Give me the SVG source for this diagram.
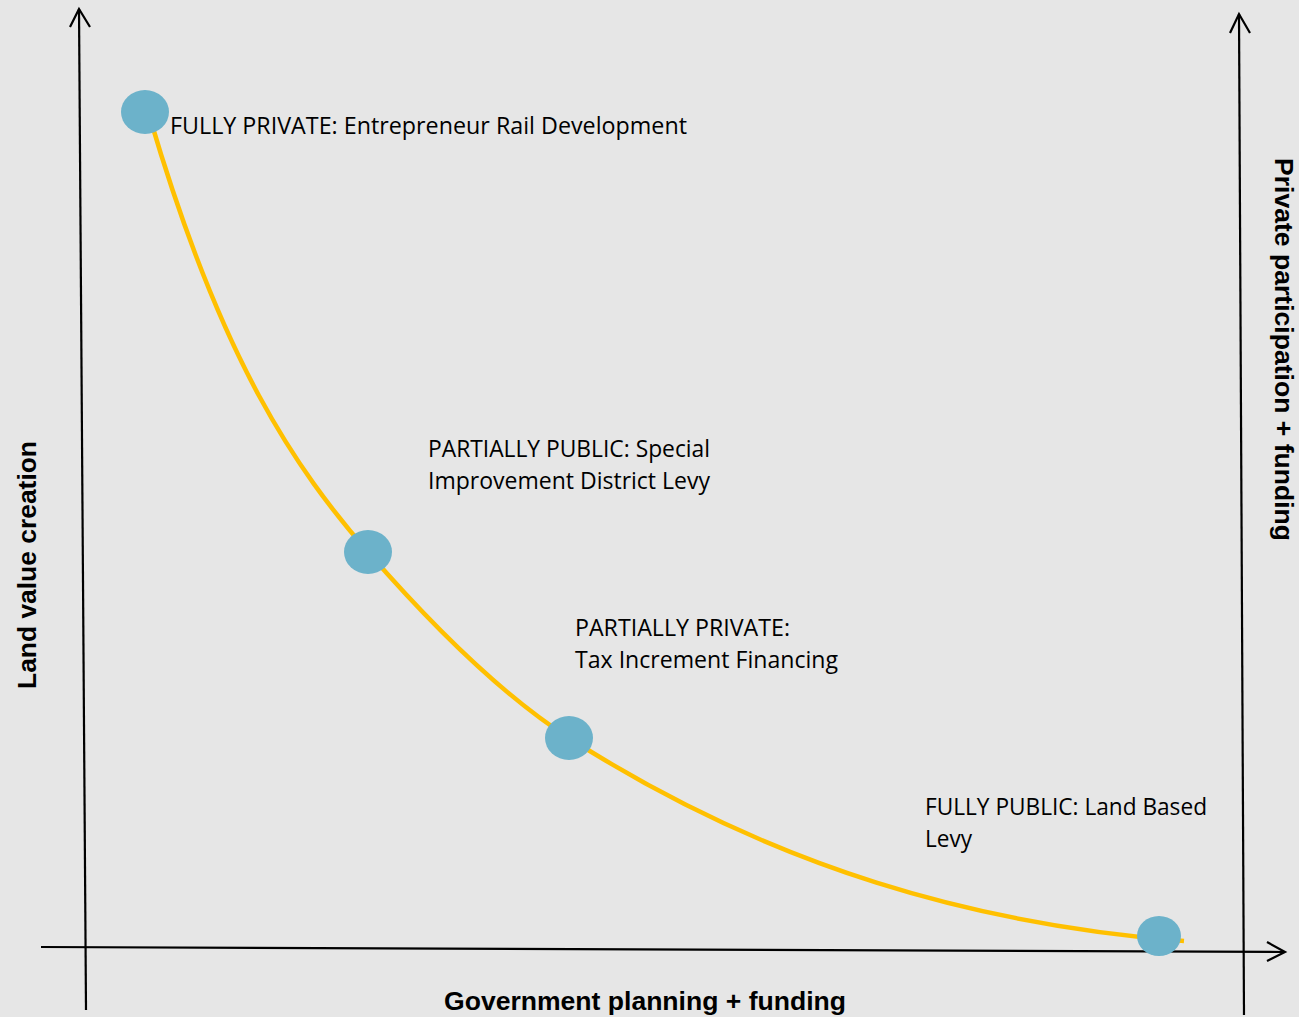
<svg xmlns="http://www.w3.org/2000/svg" width="1299" height="1017" viewBox="0 0 1299 1017">
  <style>
    .axis { stroke: #000; stroke-width: 2.2; fill: none; }
    .curve { stroke: #ffc000; stroke-width: 4.5; fill: none; }
    .dot { fill: #6cb2ca; }
    .lbl { font-family: "Open Sans", "Liberation Sans", sans-serif; font-size: 23.5px; fill: #000; }
    .ax { font-family: "Liberation Sans", Arial, sans-serif; font-size: 26px; font-weight: bold; fill: #000; }
  </style>
  <rect width="1299" height="1017" fill="#e6e6e6"/>
  <g id="connectors">
    <path class="axis" d="M86,1010 L79,9"/>
    <path class="axis" d="M70,27 L79,9 L90,27"/>
    <path class="axis" d="M1244,1015 L1239,14"/>
    <path class="axis" d="M1230,33 L1239,14 L1250,33"/>
    <path class="axis" d="M41,947 L1285,952"/>
    <path class="axis" d="M1267,942 L1285,952 L1267,961"/>
    <path class="curve" d="M150,118 C222,363 296,469 368,552 C435,629 502,695 569,738 C774,869 979,925 1184,941"/>
  </g>
  <g id="node-fully-private">
    <ellipse class="dot" cx="145" cy="112" rx="24" ry="22"/>
    <text class="lbl" x="170" y="134" textLength="517" lengthAdjust="spacingAndGlyphs">FULLY PRIVATE: Entrepreneur Rail Development</text>
  </g>
  <g id="node-partially-public">
    <ellipse class="dot" cx="368" cy="552" rx="24" ry="22"/>
    <text class="lbl" x="428" y="457" textLength="282" lengthAdjust="spacingAndGlyphs">PARTIALLY PUBLIC: Special</text>
    <text class="lbl" x="428" y="489" textLength="282" lengthAdjust="spacingAndGlyphs">Improvement District Levy</text>
  </g>
  <g id="node-partially-private">
    <ellipse class="dot" cx="569" cy="738" rx="24" ry="22"/>
    <text class="lbl" x="575" y="636" textLength="215" lengthAdjust="spacingAndGlyphs">PARTIALLY PRIVATE:</text>
    <text class="lbl" x="575" y="668" textLength="263" lengthAdjust="spacingAndGlyphs">Tax Increment Financing</text>
  </g>
  <g id="node-fully-public">
    <ellipse class="dot" cx="1159" cy="936" rx="22" ry="20"/>
    <text class="lbl" x="925" y="815" textLength="282" lengthAdjust="spacingAndGlyphs">FULLY PUBLIC: Land Based</text>
    <text class="lbl" x="925" y="847" textLength="47" lengthAdjust="spacingAndGlyphs">Levy</text>
  </g>
  <g id="axis-labels">
    <text class="ax" x="444" y="1010" textLength="402" lengthAdjust="spacingAndGlyphs">Government planning + funding</text>
    <text class="ax" transform="translate(36,689) rotate(-90)" x="0" y="0" textLength="248" lengthAdjust="spacingAndGlyphs">Land value creation</text>
    <text class="ax" transform="translate(1275,158) rotate(90)" x="0" y="0" textLength="383" lengthAdjust="spacingAndGlyphs">Private participation + funding</text>
  </g>
</svg>
